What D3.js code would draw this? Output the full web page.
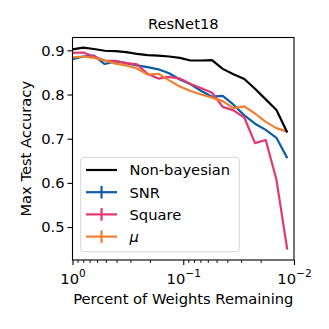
<!DOCTYPE html>
<html>
<head>
<meta charset="utf-8">
<script src="https://cdnjs.cloudflare.com/ajax/libs/d3/7.8.5/d3.min.js"></script>
<style>
  body { margin: 0; background: #fff; }
  text { font-family: "DejaVu Sans", sans-serif; fill: #000; }
</style>
</head>
<body>
<svg id="chart" width="329" height="329"></svg>
<script>
// fraction of weights remaining at each pruning round
var fractions = [1, 0.8, 0.64, 0.512, 0.4096, 0.3277, 0.2621, 0.2097, 0.1678, 0.1342,
  0.1074, 0.0859, 0.0687, 0.055, 0.044, 0.0352, 0.0281, 0.0225, 0.018, 0.0144, 0.0115];

var nonBayesian = [0.902, 0.906, 0.903, 0.899, 0.898, 0.896, 0.892, 0.889, 0.888, 0.886,
  0.883, 0.877, 0.877, 0.878, 0.858, 0.846, 0.835, 0.813, 0.789, 0.765, 0.714];
var snr = [0.880, 0.886, 0.888, 0.869, 0.875, 0.871, 0.866, 0.862, 0.857, 0.848,
  0.834, 0.823, 0.808, 0.795, 0.797, 0.777, 0.753, 0.734, 0.720, 0.702, 0.656];
var square = [0.894, 0.895, 0.886, 0.877, 0.876, 0.871, 0.868, 0.847, 0.836, 0.840,
  0.836, 0.824, 0.814, 0.804, 0.772, 0.764, 0.748, 0.690, 0.697, 0.607, 0.449];
var mu = [0.884, 0.886, 0.883, 0.877, 0.870, 0.866, 0.859, 0.845, 0.847, 0.832,
  0.818, 0.808, 0.800, 0.793, 0.785, 0.769, 0.773, 0.757, 0.738, 0.724, 0.716];

var seriesNames = ["Non-bayesian", "SNR", "Square", "\u03bc"];
var seriesColors = ["#000000", "#0C5DA5", "#E23770", "#F08030"];
var seriesValues = [nonBayesian, snr, square, mu];
var seriesErrorbar = [false, true, true, true];

var yTicks = [0.5, 0.6, 0.7, 0.8, 0.9];
var xTicks = [1, 0.1, 0.01];
var xTickExp = ["0", "\u22121", "\u22122"];

var svg = d3.select("#chart");
var m = { left: 72.5, right: 294, top: 37.5, bottom: 260 };
var fs = 14.7;

var x = d3.scaleLog().domain([1, 0.01]).range([m.left, m.right]);
var y = d3.scaleLinear().domain([0.4255, 0.929]).range([m.bottom, m.top]);

// lines
var line = d3.line()
  .x(function(d) { return x(d[0]); })
  .y(function(d) { return y(d[1]); });

var order = [1, 2, 3, 0];
order.forEach(function(i) {
  svg.append("path")
    .datum(fractions.map(function(f, j) { return [f, seriesValues[i][j]]; }))
    .attr("d", line)
    .attr("fill", "none")
    .attr("stroke", seriesColors[i])
    .attr("stroke-width", 2.2)
    .attr("stroke-linejoin", "round");
});

// axes
var yAxis = d3.axisLeft(y).tickValues(yTicks).tickSize(5).tickPadding(3)
  .tickFormat(d3.format(".1f"));
var gy = svg.append("g").attr("transform", "translate(" + m.left + ",0)").call(yAxis);
gy.select(".domain").remove();
gy.selectAll("line").attr("stroke-width", 1.1);
gy.selectAll("text").style("font-size", fs + "px").attr("font-family", "DejaVu Sans");

var minor = [];
[1, 0.1].forEach(function(dec) {
  for (var k = 2; k < 10; k++) minor.push(dec * k / 10);
});
var gxm = svg.append("g").attr("transform", "translate(0," + m.bottom + ")")
  .call(d3.axisBottom(x).tickValues(minor).tickSize(3).tickFormat(""));
gxm.select(".domain").remove();
gxm.selectAll("line").attr("stroke-width", 0.9);

var gx = svg.append("g").attr("transform", "translate(0," + m.bottom + ")")
  .call(d3.axisBottom(x).tickValues(xTicks).tickSize(5).tickFormat(""));
gx.select(".domain").remove();
gx.selectAll("line").attr("stroke-width", 1.1);
gx.selectAll(".tick").append("text")
  .attr("y", 23.5)
  .attr("text-anchor", "middle")
  .style("font-size", fs + "px")
  .each(function(d, i) {
    var t = d3.select(this);
    t.append("tspan").text("10");
    t.append("tspan").attr("dy", -6.5).style("font-size", (fs * 0.72) + "px").text(xTickExp[i]);
  });

svg.append("rect")
  .attr("x", m.left).attr("y", m.top)
  .attr("width", m.right - m.left).attr("height", m.bottom - m.top)
  .attr("fill", "none").attr("stroke", "#000").attr("stroke-width", 1.1);

// titles
svg.append("text").attr("x", (m.left + m.right) / 2).attr("y", 29)
  .attr("text-anchor", "middle").style("font-size", fs + "px").text("ResNet18");
svg.append("text").attr("x", (m.left + m.right) / 2).attr("y", 304)
  .attr("text-anchor", "middle").style("font-size", fs + "px").text("Percent of Weights Remaining");
svg.append("text")
  .attr("transform", "translate(31," + ((m.top + m.bottom) / 2) + ") rotate(-90)")
  .attr("text-anchor", "middle").style("font-size", fs + "px").text("Max Test Accuracy");

// legend
var lg = svg.append("g");
lg.append("rect")
  .attr("x", 80.7).attr("y", 157.3).attr("width", 158.6).attr("height", 94.4)
  .attr("rx", 3).attr("fill", "#fff").attr("fill-opacity", 0.8)
  .attr("stroke", "#d6d6d6").attr("stroke-width", 1);
seriesNames.forEach(function(name, i) {
  var cy = 170 + i * 22.2;
  lg.append("line").attr("x1", 86).attr("x2", 117).attr("y1", cy).attr("y2", cy)
    .attr("stroke", seriesColors[i]).attr("stroke-width", 2.2);
  if (seriesErrorbar[i]) {
    lg.append("line").attr("x1", 101.5).attr("x2", 101.5).attr("y1", cy - 6.3).attr("y2", cy + 6.3)
      .attr("stroke", seriesColors[i]).attr("stroke-width", 2.2);
  }
  lg.append("text").attr("x", 129.5).attr("y", cy + 5.3)
    .style("font-size", fs + "px")
    .style("font-style", i === 3 ? "italic" : "normal")
    .text(name);
});
</script>
</body>
</html>
